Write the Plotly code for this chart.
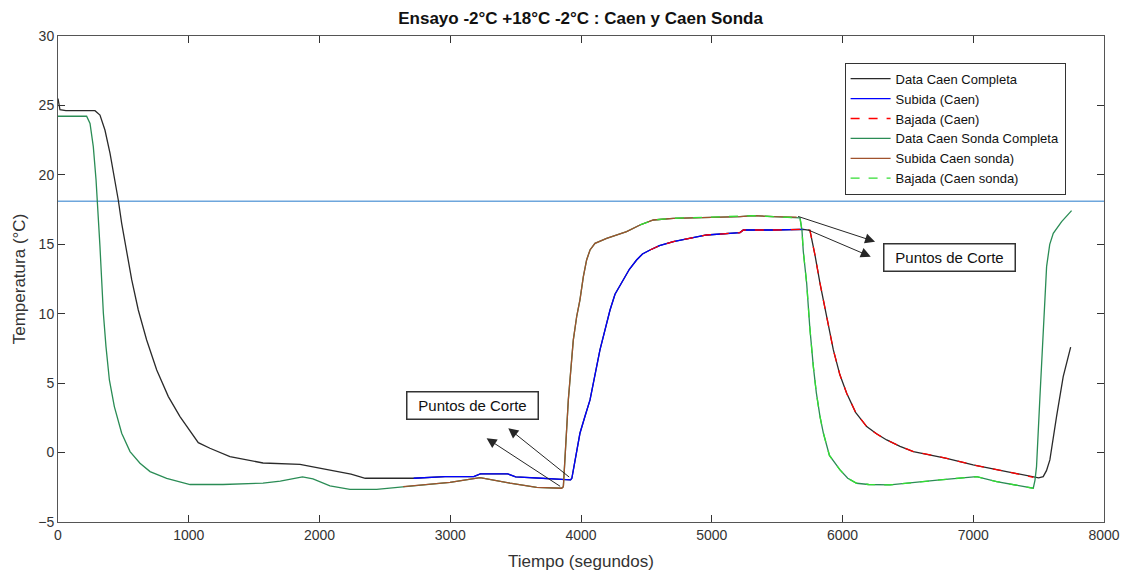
import numpy as np
import plotly.graph_objects as go

# ---------------- data ----------------
caen_t = [0, 15, 60, 283, 321, 359, 398, 436, 461, 487, 525, 564, 614, 678, 755, 844,
          933, 1010, 1073, 1162, 1315, 1568, 1700, 1851, 1930, 2100, 2241, 2350, 2720,
          2960, 3180, 3230, 3440, 3500, 3700, 3880, 3920, 3930, 3960, 3992, 4030, 4069,
          4145, 4222, 4260, 4323, 4370, 4425, 4470, 4528, 4600, 4706, 4961, 5216, 5242,
          5471, 5700, 5751, 5770, 5790, 5828, 5880, 5930, 5980, 6032, 6100, 6185, 6260,
          6338, 6440, 6542, 6796, 6999, 7255, 7459, 7500, 7535, 7560, 7586, 7610, 7637,
          7688, 7745]
caen_temp = [25.5, 24.7, 24.62, 24.62, 24.31, 23.23, 21.55, 19.63, 18.19, 16.51, 14.35,
             12.43, 10.27, 8.11, 5.95, 4.03, 2.59, 1.51, 0.71, 0.31, -0.29, -0.75, -0.8,
             -0.85, -1.0, -1.33, -1.55, -1.85, -1.85, -1.73, -1.73, -1.54, -1.54, -1.75,
             -1.85, -1.92, -1.97, -1.85, -0.3, 1.39, 2.6, 3.79, 7.39, 10.27, 11.4, 12.43,
             13.2, 13.87, 14.3, 14.59, 14.9, 15.19, 15.67, 15.84, 16.03, 16.03, 16.08,
             16.0, 15.2, 14.2, 12.19, 9.6, 7.39, 5.6, 4.27, 2.9, 1.87, 1.35, 0.91, 0.45,
             0.07, -0.41, -0.89, -1.37, -1.78, -1.82, -1.73, -1.3, -0.53, 1.0, 2.59, 5.47,
             7.6]

sonda_t = [0, 219, 245, 270, 291, 308, 321, 334, 347, 367, 393, 431, 487, 551, 627, 704,
           831, 1010, 1262, 1568, 1700, 1870, 1950, 2080, 2233, 2437, 2640, 2998, 3228,
           3457, 3661, 3852, 3865, 3903, 3941, 3967, 3992, 4018, 4043, 4069, 4107, 4196,
           4349, 4451, 4553, 4706, 5216, 5318, 5471, 5649, 5675, 5690, 5700, 5726, 5750,
           5777, 5800, 5828, 5854, 5900, 5981, 6040, 6108, 6200, 6363, 6745, 7026, 7179,
           7459, 7472, 7484, 7510, 7535, 7548, 7561, 7585, 7612, 7676, 7752]
sonda_temp = [24.22, 24.22, 23.7, 22.03, 19.63, 17.23, 14.83, 12.43, 10.03, 7.63, 5.23,
              3.31, 1.39, 0.07, -0.77, -1.37, -1.85, -2.3, -2.3, -2.2, -2.05, -1.75, -1.9,
              -2.4, -2.65, -2.65, -2.45, -2.14, -1.8, -2.2, -2.5, -2.57, -2.45, 3.79, 8.1,
              9.8, 11.0, 12.67, 13.87, 14.59, 15.07, 15.43, 15.91, 16.39, 16.75, 16.87,
              16.99, 17.06, 16.99, 16.95, 16.9, 16.0, 14.5, 12.19, 9.0, 6.19, 4.3, 2.59,
              1.39, -0.2, -1.25, -1.85, -2.21, -2.3, -2.33, -1.97, -1.73, -2.09, -2.57,
              -2.0, -1.01, 4.0, 8.59, 11.5, 13.39, 15.0, 15.79, 16.63, 17.42]

# segment limits (seconds)
subida_caen_lim = [2720, 5700]
bajada_caen_lim = [4528, 7459]
subida_sonda_lim = [2640, 5649]
bajada_sonda_lim = [4451, 7459]

referencia_temp = 18.1

# "Puntos de Corte" arrows: [tail_x, tail_y, head_x, head_y]
flechas = [[3852, -2.5, 3278, 1.03],
           [3921, -1.85, 3444, 1.75],
           [5649, 17.04, 6249, 15.19],
           [5726, 16.08, 6216, 14.11]]
etiquetas = [[3170, 3.36], [6815, 14.05]]

x_ticks = list(range(0, 8001, 1000))
y_ticks = list(range(-5, 31, 5))


def segmento(t, v, lim):
    t = np.asarray(t, float)
    v = np.asarray(v, float)
    m = (t >= lim[0]) & (t <= lim[1])
    return t[m], v[m]


FONT = "Arial, Liberation Sans, sans-serif"

fig = go.Figure()
lw = 1.3
fig.add_trace(go.Scatter(x=caen_t, y=caen_temp, mode="lines", name="Data Caen Completa",
                         line=dict(color="#2a2a2a", width=lw)))
sx, sy = segmento(caen_t, caen_temp, subida_caen_lim)
fig.add_trace(go.Scatter(x=sx, y=sy, mode="lines", name="Subida (Caen)",
                         line=dict(color="#0000ff", width=lw)))
sx, sy = segmento(caen_t, caen_temp, bajada_caen_lim)
fig.add_trace(go.Scatter(x=sx, y=sy, mode="lines", name="Bajada (Caen)",
                         line=dict(color="#ff0000", width=lw, dash="dash")))
fig.add_trace(go.Scatter(x=sonda_t, y=sonda_temp, mode="lines", name="Data Caen Sonda Completa",
                         line=dict(color="#2a8c55", width=lw)))
sx, sy = segmento(sonda_t, sonda_temp, subida_sonda_lim)
fig.add_trace(go.Scatter(x=sx, y=sy, mode="lines", name="Subida Caen sonda)",
                         line=dict(color="#a0522d", width=lw)))
sx, sy = segmento(sonda_t, sonda_temp, bajada_sonda_lim)
fig.add_trace(go.Scatter(x=sx, y=sy, mode="lines", name="Bajada (Caen sonda)",
                         line=dict(color="#33dd33", width=lw, dash="dash")))

fig.add_shape(type="line", xref="paper", x0=0, x1=1, yref="y", y0=referencia_temp,
              y1=referencia_temp, line=dict(color="#6ea6dc", width=1.4), layer="below")

for tx, ty, hx, hy in flechas:
    fig.add_annotation(x=hx, y=hy, ax=tx, ay=ty, xref="x", yref="y", axref="x", ayref="y",
                       text="", showarrow=True, arrowhead=2, arrowsize=2, arrowwidth=1,
                       arrowcolor="#262626", standoff=0, startstandoff=0)
for ex, ey in etiquetas:
    fig.add_annotation(x=ex, y=ey, xref="x", yref="y", text="Puntos de Corte",
                       showarrow=False, font=dict(family=FONT, size=15, color="#111"),
                       bordercolor="#333", borderwidth=1.5, borderpad=2, bgcolor="white",
                       width=126, height=22, align="center")

axis_common = dict(showgrid=False, zeroline=False, showline=True, linecolor="#555",
                   linewidth=1, mirror="ticks", ticks="inside", ticklen=7,
                   tickcolor="#333", automargin=False,
                   tickfont=dict(family=FONT, size=14, color="#333"))
fig.update_xaxes(range=[0, 8000], tickvals=x_ticks,
                 title=dict(text="Tiempo (segundos)", font=dict(family=FONT, size=17, color="#333"),
                            standoff=13), **axis_common)
fig.update_yaxes(range=[-5, 30], tickvals=y_ticks,
                 title=dict(text="Temperatura (°C)", font=dict(family=FONT, size=17, color="#333"),
                            standoff=8), **axis_common)

fig.update_layout(
    width=1123, height=573,
    margin=dict(l=58, r=19, t=36, b=51),
    paper_bgcolor="white", plot_bgcolor="white",
    title=dict(text="<b>Ensayo -2°C +18°C -2°C : Caen y Caen Sonda</b>",
               x=0.517, xanchor="center", y=0.968, yanchor="middle", yref="container",
               font=dict(family=FONT, size=17, color="#111")),
    legend=dict(x=0.752, y=0.945, xanchor="left", yanchor="top", bgcolor="white",
                bordercolor="#333", borderwidth=1, tracegroupgap=0, itemwidth=40,
                font=dict(family=FONT, size=13, color="#111")),
    showlegend=True,
)

# remove the browser's default 8px body margin so the figure sits at the page origin
fig.write_html("out.html", config={"displayModeBar": False},
               post_script="document.body.style.margin='0px';")
